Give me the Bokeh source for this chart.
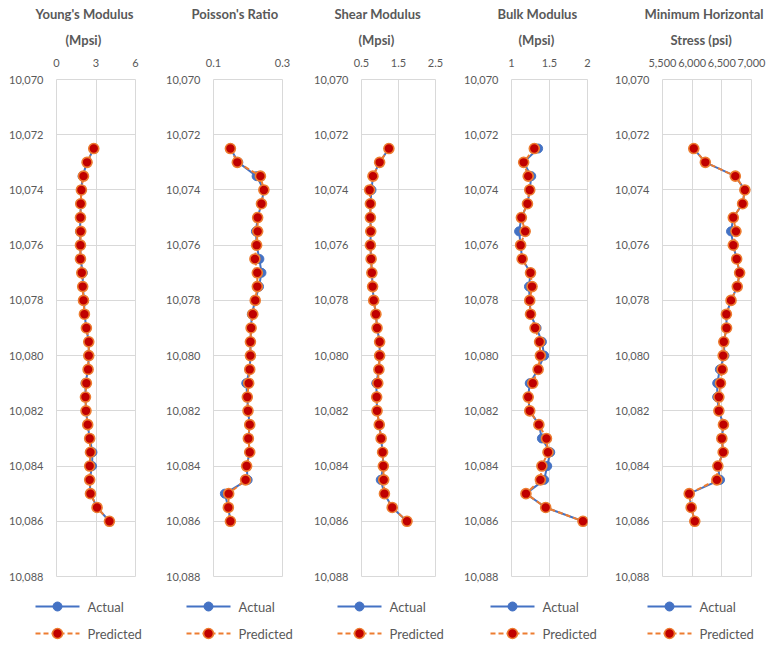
from bokeh.plotting import figure
from bokeh.layouts import row, column
from bokeh.models import Range1d, FixedTicker, NumeralTickFormatter, Title
from bokeh.core.properties import value
from bokeh.embed import file_html
from bokeh.resources import INLINE

# Depth of each sample (ft)
depth = [10072.5, 10073.0, 10073.5, 10074.0, 10074.5, 10075.0, 10075.5, 10076.0,
         10076.5, 10077.0, 10077.5, 10078.0, 10078.5, 10079.0, 10079.5, 10080.0,
         10080.5, 10081.0, 10081.5, 10082.0, 10082.5, 10083.0, 10083.5, 10084.0,
         10084.5, 10085.0, 10085.5, 10086.0]

youngs_actual = [2.83, 2.32, 1.98, 1.89, 1.84, 1.82, 1.78, 1.82, 1.82, 2.00, 1.99, 2.10, 2.12, 2.27,
                 2.45, 2.45, 2.40, 2.20, 2.20, 2.24, 2.37, 2.52, 2.73, 2.70, 2.52, 2.58, 3.08, 4.02]
youngs_pred = [2.83, 2.32, 2.05, 1.89, 1.84, 1.82, 1.84, 1.82, 1.82, 1.92, 1.99, 2.05, 2.12, 2.27,
               2.45, 2.45, 2.40, 2.27, 2.20, 2.24, 2.37, 2.52, 2.58, 2.52, 2.52, 2.58, 3.08, 4.02]

poisson_actual = [0.149, 0.172, 0.225, 0.246, 0.239, 0.228, 0.223, 0.225, 0.233, 0.239, 0.232, 0.221,
                  0.211, 0.209, 0.207, 0.207, 0.205, 0.195, 0.198, 0.200, 0.205, 0.201, 0.205, 0.196,
                  0.199, 0.133, 0.143, 0.149]
poisson_pred = [0.149, 0.169, 0.236, 0.246, 0.239, 0.228, 0.228, 0.225, 0.220, 0.227, 0.227, 0.221,
                0.214, 0.209, 0.207, 0.207, 0.205, 0.202, 0.198, 0.200, 0.205, 0.201, 0.205, 0.196,
                0.193, 0.144, 0.143, 0.149]

shear_actual = [1.24, 0.99, 0.81, 0.77, 0.74, 0.74, 0.75, 0.74, 0.76, 0.78, 0.80, 0.83, 0.89, 0.92,
                0.99, 0.99, 0.97, 0.90, 0.91, 0.92, 0.98, 1.03, 1.07, 1.09, 1.02, 1.12, 1.33, 1.73]
shear_pred = [1.24, 0.99, 0.81, 0.72, 0.74, 0.74, 0.75, 0.74, 0.76, 0.78, 0.80, 0.83, 0.89, 0.92,
              0.99, 0.99, 0.97, 0.94, 0.91, 0.92, 0.98, 1.03, 1.07, 1.09, 1.10, 1.12, 1.33, 1.73]

bulk_actual = [1.35, 1.16, 1.26, 1.24, 1.21, 1.13, 1.10, 1.12, 1.14, 1.25, 1.23, 1.24, 1.25, 1.33,
               1.40, 1.43, 1.35, 1.24, 1.22, 1.24, 1.36, 1.40, 1.51, 1.47, 1.43, 1.19, 1.45, 1.94]
bulk_pred = [1.30, 1.16, 1.22, 1.24, 1.21, 1.13, 1.18, 1.12, 1.14, 1.25, 1.27, 1.24, 1.25, 1.31,
             1.37, 1.38, 1.35, 1.28, 1.22, 1.24, 1.36, 1.46, 1.48, 1.40, 1.38, 1.19, 1.45, 1.94]

shmin_actual = [6027, 6222, 6727, 6888, 6850, 6693, 6655, 6693, 6750, 6800, 6760, 6655, 6577, 6580,
                6533, 6545, 6467, 6422, 6422, 6450, 6527, 6500, 6522, 6433, 6470, 5950, 5983, 6044]
shmin_pred = [6027, 6222, 6727, 6888, 6850, 6693, 6738, 6693, 6750, 6800, 6760, 6655, 6577, 6580,
              6533, 6522, 6505, 6477, 6450, 6450, 6527, 6500, 6522, 6433, 6416, 5950, 5983, 6044]

depth_ticks = [10070, 10072, 10074, 10076, 10078, 10080, 10082, 10084, 10086, 10088]
series_labels = ["Actual", "Predicted"]

FONT = "Lato"
GREY_TEXT = "#595959"
GRID = "#D9D9D9"
BLUE = "#4472C4"
ORANGE = "#ED7D31"
DARK_RED = "#C00000"

ACTUAL_LINE = dict(line_color=BLUE, line_width=2)
ACTUAL_MARK = dict(marker="circle", size=9, fill_color=BLUE, line_color=BLUE)
PRED_LINE = dict(line_color=ORANGE, line_width=2, line_dash="5 3")
PRED_MARK = dict(marker="circle", size=10, fill_color=DARK_RED, line_color=ORANGE, line_width=1.6)

TRACK_H = 590
KEY_H = 56


def title_line(text, dx, standoff):
    return Title(text=text, align="left", offset=dx, standoff=standoff,
                 text_font=FONT, text_font_size="13px", text_font_style="bold",
                 text_color=GREY_TEXT)


def track(titles, actual, pred, xmin, xmax, xticks, fmt, width, left, right):
    (t1, dx1), (t2, dx2) = titles
    p = figure(
        width=width, height=TRACK_H,
        x_range=Range1d(xmin, xmax), y_range=Range1d(10088, 10070),
        x_axis_location="above",
        output_backend="svg", toolbar_location=None,
        min_border_left=left, min_border_right=right,
        min_border_top=79, min_border_bottom=TRACK_H - 576,
        outline_line_color=GRID,
        title=title_line(t1, dx1, 2),
    )
    # second title line, between the first line and the top axis
    p.add_layout(title_line(t2, dx2, 15), "above")

    p.xaxis.ticker = FixedTicker(ticks=xticks)
    p.xaxis.formatter = NumeralTickFormatter(format=fmt)
    p.yaxis.ticker = FixedTicker(ticks=depth_ticks)
    p.yaxis.formatter = NumeralTickFormatter(format="0,0")
    for ax in (p.xaxis, p.yaxis):
        ax.axis_line_color = None
        ax.major_tick_line_color = None
        ax.minor_tick_line_color = None
        ax.major_label_text_font = FONT
        ax.major_label_text_font_size = "11px"
        ax.major_label_text_color = GREY_TEXT
        ax.major_label_standoff = 7
    p.xgrid.ticker = FixedTicker(ticks=xticks)
    p.ygrid.ticker = FixedTicker(ticks=depth_ticks)
    p.grid.grid_line_color = GRID
    p.grid.grid_line_width = 1

    p.line(actual, depth, **ACTUAL_LINE)
    p.scatter(actual, depth, **ACTUAL_MARK)
    p.line(pred, depth, **PRED_LINE)
    p.scatter(pred, depth, **PRED_MARK)
    return p


def key_strip(width, dx):
    """Strip under a track with the Actual / Predicted key; its ranges are in pixels."""
    q = figure(width=width, height=KEY_H, x_range=Range1d(0, width), y_range=Range1d(0, KEY_H),
               x_axis_type=None, y_axis_type=None, min_border=0, frame_align=False,
               outline_line_color=None, output_backend="svg", toolbar_location=None)
    row_y = [KEY_H - 16, KEY_H - 43]
    swatch = [dx, dx + 44]
    q.line(swatch, [row_y[0]] * 2, **ACTUAL_LINE)
    q.scatter([dx + 22], [row_y[0]], **ACTUAL_MARK)
    q.line(swatch, [row_y[1]] * 2, **PRED_LINE)
    q.scatter([dx + 22], [row_y[1]], **PRED_MARK)
    q.text([dx + 52] * 2, row_y, text=series_labels,
           text_font=value(FONT), text_font_size="13px", text_color=GREY_TEXT,
           text_baseline="middle", text_align="left")
    return q


specs = [
    ([("Young's Modulus", -21), ("(Mpsi)", 9)], youngs_actual, youngs_pred,
     0, 6, [0, 3, 6], "0", 153, 56, 18, 35),
    ([("Poisson's Ratio", -22), (" ", 0)], poisson_actual, poisson_pred,
     0.1, 0.3, [0.1, 0.3], "0.0", 153, 60, 24, 33),
    ([("Shear Modulus", -27), ("(Mpsi)", -3)], shear_actual, shear_pred,
     0.5, 2.5, [0.5, 1.5, 2.5], "0.0", 153, 55, 24, 31),
    ([("Bulk Modulus", -14), ("(Mpsi)", 7)], bulk_actual, bulk_pred,
     1, 2, [1, 1.5, 2], "0.[0]", 153, 52, 25, 31),
    ([("Minimum Horizontal", -18), ("Stress (psi)", 8)], shmin_actual, shmin_pred,
     5500, 7000, [5500, 6000, 6500, 7000], "0,0", 154, 49, 15, 35),
]

columns = []
for titles, a, pr, x0, x1, ticks, fmt, w, lb, rb, kdx in specs:
    columns.append(column(track(titles, a, pr, x0, x1, ticks, fmt, w, lb, rb),
                          key_strip(w, kdx)))

layout = row(*columns)
open("out.html", "w").write(file_html(layout, INLINE))
